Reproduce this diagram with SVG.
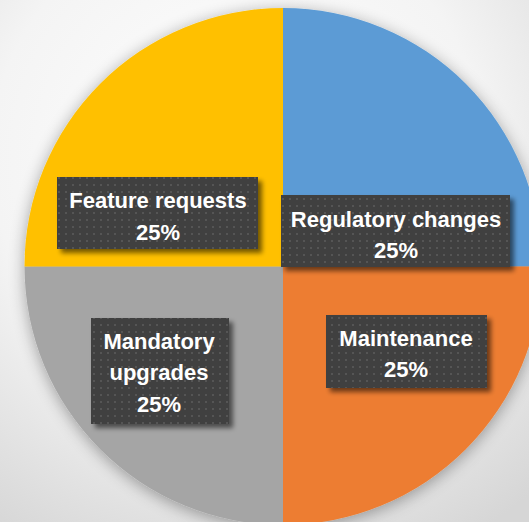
<svg xmlns="http://www.w3.org/2000/svg" width="529" height="522" viewBox="0 0 529 522">
  <style>
    .lbl { font-family: "Liberation Sans", Arial, sans-serif; font-weight: bold; font-size: 22px; fill: #ffffff; text-anchor: middle; }
    .box { fill: url(#dots); }
  </style>
  <defs>
    <radialGradient id="bg" cx="0.45" cy="0.3" r="0.85">
      <stop offset="0" stop-color="#ffffff"/>
      <stop offset="0.55" stop-color="#f4f4f4"/>
      <stop offset="1" stop-color="#d6d6d6"/>
    </radialGradient>
    <pattern id="dots" width="7" height="7" patternUnits="userSpaceOnUse">
      <rect width="7" height="7" fill="#404040"/>
      <rect x="2" y="2" width="2" height="2" fill="#555555"/>
    </pattern>
    <filter id="pieShadow" x="-20%" y="-20%" width="140%" height="140%">
      <feGaussianBlur in="SourceAlpha" stdDeviation="8"/>
      <feOffset dx="0" dy="3" result="b"/>
      <feComponentTransfer in="b" result="s"><feFuncA type="linear" slope="0.35"/></feComponentTransfer>
      <feMerge><feMergeNode in="s"/><feMergeNode in="SourceGraphic"/></feMerge>
    </filter>
    <filter id="boxShadow" x="-10%" y="-10%" width="130%" height="140%">
      <feGaussianBlur in="SourceAlpha" stdDeviation="2.5"/>
      <feOffset dx="4" dy="4" result="b"/>
      <feComponentTransfer in="b" result="s"><feFuncA type="linear" slope="0.55"/></feComponentTransfer>
      <feMerge><feMergeNode in="s"/><feMergeNode in="SourceGraphic"/></feMerge>
    </filter>
  </defs>
  <rect width="529" height="522" fill="url(#bg)"/>
  <g id="pie" filter="url(#pieShadow)">
    <path id="slice-regulatory" d="M283 266.5 V8 A258.5 258.5 0 0 1 541.5 266.5 Z" fill="#5B9BD5"/>
    <path id="slice-maintenance" d="M283 266.5 H541.5 A258.5 258.5 0 0 1 283 525 Z" fill="#ED7D31"/>
    <path id="slice-mandatory" d="M283 266.5 V525 A258.5 258.5 0 0 1 24.5 266.5 Z" fill="#A5A5A5"/>
    <path id="slice-feature" d="M283 266.5 H24.5 A258.5 258.5 0 0 1 283 8 Z" fill="#FFC000"/>
  </g>
  <g id="label-feature">
    <rect class="box" x="57" y="177" width="201" height="72" filter="url(#boxShadow)"/>
    <text class="lbl" x="158" y="208">Feature requests</text>
    <text class="lbl" x="158" y="239.5">25%</text>
  </g>
  <g id="label-regulatory">
    <rect class="box" x="281" y="195" width="229" height="72" filter="url(#boxShadow)"/>
    <text class="lbl" x="396" y="226.5">Regulatory changes</text>
    <text class="lbl" x="396" y="257.5">25%</text>
  </g>
  <g id="label-mandatory">
    <rect class="box" x="91" y="318" width="138" height="106" filter="url(#boxShadow)"/>
    <text class="lbl" x="159" y="349">Mandatory</text>
    <text class="lbl" x="159" y="380">upgrades</text>
    <text class="lbl" x="159" y="412">25%</text>
  </g>
  <g id="label-maintenance">
    <rect class="box" x="326" y="315" width="161" height="73" filter="url(#boxShadow)"/>
    <text class="lbl" x="406" y="345.5">Maintenance</text>
    <text class="lbl" x="406" y="377">25%</text>
  </g>
  <g id="connectors"/>
</svg>
